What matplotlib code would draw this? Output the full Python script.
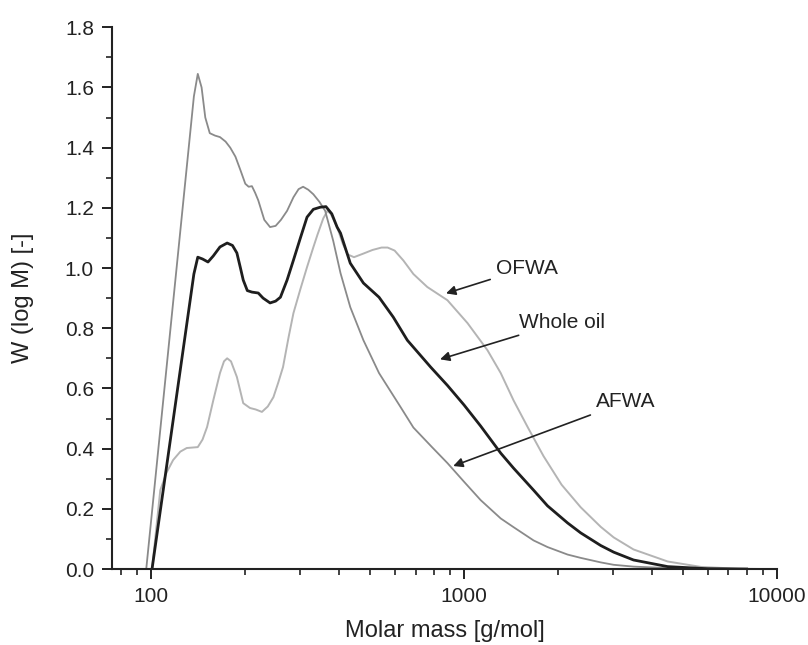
import numpy as np
import matplotlib
matplotlib.use('Agg')
import matplotlib.pyplot as plt
from matplotlib.ticker import LogLocator, MultipleLocator, FixedLocator, NullFormatter

plt.rcParams['font.family'] = ['Liberation Sans', 'DejaVu Sans']

# AFWA (medium grey)
afwa_m = [96.5, 137, 141, 145, 149, 154, 160, 166, 173, 179, 186, 193, 200, 205, 210, 215,
          220, 230, 240, 250, 260, 272, 285, 296, 306, 318, 330, 345, 360, 382, 403, 433,
          477, 535, 627, 689, 790, 885, 1000, 1130, 1310, 1440, 1668, 1848, 2143, 2360,
          2735, 3008, 3480, 4500, 6000, 8000]
afwa_w = [0.0, 1.57, 1.645, 1.60, 1.50, 1.448, 1.44, 1.435, 1.42, 1.40, 1.37, 1.325, 1.28,
          1.27, 1.272, 1.25, 1.225, 1.16, 1.136, 1.14, 1.16, 1.19, 1.235, 1.262, 1.27, 1.26,
          1.245, 1.22, 1.19, 1.09, 0.983, 0.87, 0.76, 0.651, 0.538, 0.47, 0.405, 0.352, 0.29,
          0.229, 0.168, 0.139, 0.095, 0.073, 0.048, 0.037, 0.022, 0.014, 0.008, 0.003, 0.001, 0.0]

# Whole oil (black)
whole_m = [100.7, 137, 141, 146, 152, 158, 166, 175, 182, 188, 193, 197, 203, 210, 220,
           228, 240, 250, 259, 272, 285, 300, 315, 330, 347, 362, 378, 393, 403, 433, 477,
           535, 594, 659, 782, 885, 1000, 1130, 1310, 1440, 1668, 1848, 2143, 2360, 2735,
           3008, 3480, 4475, 6000, 8000]
whole_w = [0.0, 0.98, 1.036, 1.03, 1.02, 1.04, 1.07, 1.083, 1.075, 1.05, 1.0, 0.96, 0.925,
           0.92, 0.917, 0.90, 0.884, 0.89, 0.903, 0.96, 1.026, 1.10, 1.169, 1.195, 1.202,
           1.204, 1.18, 1.136, 1.116, 1.016, 0.95, 0.903, 0.837, 0.76, 0.671, 0.61, 0.545,
           0.475, 0.385, 0.335, 0.262, 0.21, 0.153, 0.12, 0.078, 0.056, 0.03, 0.008, 0.001, 0.0]

# OFWA (light grey)
ofwa_m = [100.7, 107, 112, 117.6, 124, 130, 141, 146, 151, 158, 166, 171, 175, 180, 188,
          197, 207, 216, 226, 236, 246, 255, 264, 275, 285, 300, 315, 330, 340, 355, 366,
          375, 393, 410, 425, 445, 477, 510, 545, 570, 600, 640, 689, 763, 885, 1026, 1188,
          1310, 1440, 1600, 1795, 2050, 2360, 2735, 3008, 3480, 4475, 5714, 7500, 9000]
ofwa_w = [0.0, 0.262, 0.32, 0.362, 0.39, 0.402, 0.405, 0.43, 0.472, 0.56, 0.651, 0.69, 0.70,
          0.69, 0.638, 0.551, 0.535, 0.53, 0.522, 0.54, 0.571, 0.62, 0.671, 0.77, 0.85, 0.93,
          1.003, 1.069, 1.11, 1.165, 1.19, 1.18, 1.136, 1.08, 1.045, 1.036, 1.048, 1.06, 1.068,
          1.068, 1.058, 1.025, 0.98, 0.937, 0.893, 0.817, 0.727, 0.651, 0.56, 0.47, 0.375,
          0.28, 0.205, 0.14, 0.105, 0.065, 0.025, 0.007, 0.001, 0.0]

fig = plt.figure(figsize=(8.08, 6.45), dpi=100)
ax = fig.add_axes([0.1386, 0.1178, 0.823, 0.840])

ax.plot(ofwa_m, ofwa_w, color='#b4b4b4', lw=1.4)
ax.plot(afwa_m, afwa_w, color='#8a8a8a', lw=1.3)
ax.plot(whole_m, whole_w, color='#1e1e1e', lw=2.0)

ax.set_xscale('log')
ax.set_xlim(75, 10000)
ax.set_ylim(0, 1.8)
ax.xaxis.set_major_locator(FixedLocator([100, 1000, 10000]))
ax.xaxis.set_major_formatter(matplotlib.ticker.FixedFormatter(['100', '1000', '10000']))
ax.xaxis.set_minor_locator(LogLocator(base=10, subs=np.arange(2, 10)))
ax.xaxis.set_minor_formatter(NullFormatter())
ax.yaxis.set_major_locator(MultipleLocator(0.2))
ax.yaxis.set_minor_locator(MultipleLocator(0.1))
ax.yaxis.set_major_formatter(matplotlib.ticker.FormatStrFormatter('%.1f'))

for s in ['top', 'right']:
    ax.spines[s].set_visible(False)
for s in ['left', 'bottom']:
    ax.spines[s].set_linewidth(1.5)
    ax.spines[s].set_color('#222222')
ax.tick_params(which='major', direction='out', length=7, width=1.4, labelsize=15,
               colors='#222222', pad=6)
ax.tick_params(which='minor', direction='out', length=4, width=1.2, colors='#222222')

ax.set_xlabel('Molar mass [g/mol]', fontsize=17, color='#222222', labelpad=10)
ax.set_ylabel('W (log M) [-]', fontsize=17, color='#222222', labelpad=22)

arrow = dict(arrowstyle='-|>', color='#222222', lw=1.2, mutation_scale=14)
ax.annotate('OFWA', xy=(859, 0.913), xytext=(1262, 1.0), fontsize=15,
            color='#222222', va='center', ha='left', arrowprops=arrow)
ax.annotate('Whole oil', xy=(822, 0.694), xytext=(1493, 0.82), fontsize=15,
            color='#222222', va='center', ha='left', arrowprops=arrow)
ax.annotate('AFWA', xy=(906, 0.339), xytext=(2636, 0.555), fontsize=15,
            color='#222222', va='center', ha='left', arrowprops=arrow)

fig.savefig('out.png', dpi=100)
